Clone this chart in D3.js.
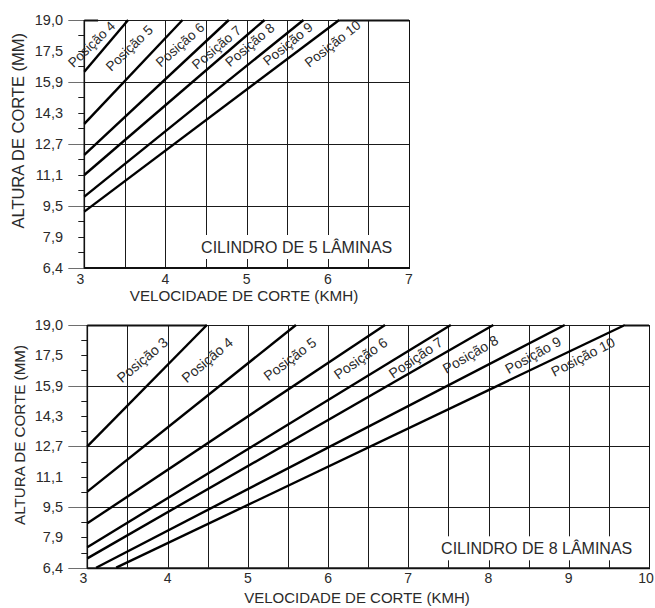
<!DOCTYPE html>
<html><head><meta charset="utf-8">
<script src="https://cdn.jsdelivr.net/npm/d3@7"></script>
<style>
body{margin:0;background:#fff}
svg{display:block}
text{font-family:"Liberation Sans",Arial,Helvetica,sans-serif;fill:#2a2a2a}
</style>
</head><body>
<svg id="c" width="655" height="608"></svg>
<script>
// ---------------- DATA ----------------
// Y axis: cut height in mm (1/16 inch steps)
const yTickValues = [6.35, 7.94, 9.53, 11.11, 12.70, 14.29, 15.88, 17.46, 19.05];
const yTickLabels = ["6,4", "7,9", "9,5", "11,1", "12,7", "14,3", "15,9", "17,5", "19,0"];
const yGridValues = [6.35, 9.53, 12.70, 15.88, 19.05];

// X axis: cutting speed km/h
const xTicks5 = [3, 4, 5, 6, 7];
const xTicks8 = [3, 4, 5, 6, 7, 8, 9, 10];

// Position labels
const positions5 = ["Posição 4", "Posição 5", "Posição 6", "Posição 7", "Posição 8", "Posição 9", "Posição 10"];
const positions8 = ["Posição 3", "Posição 4", "Posição 5", "Posição 6", "Posição 7", "Posição 8", "Posição 9", "Posição 10"];

// Lines: [speed, height] start and end points – 5-blade cylinder
const lines5 = [
  [[3, 16.40], [3.54, 19.05]],
  [[3, 13.72], [4.21, 19.05]],
  [[3, 12.13], [4.78, 19.05]],
  [[3, 11.10], [5.22, 19.05]],
  [[3, 9.99],  [5.70, 19.05]],
  [[3, 9.22],  [6.14, 19.05]]
];
// 8-blade cylinder
const lines8 = [
  [[3, 12.70],    [4.49, 19.05]],
  [[3, 10.33],    [5.60, 19.05]],
  [[3, 8.67],     [6.71, 19.05]],
  [[3, 7.42],     [7.53, 19.05]],
  [[3, 6.84],     [8.06, 19.05]],
  [[3.11, 6.35],  [8.95, 19.05]],
  [[3.36, 6.35],  [9.70, 19.05]]
];

// ---------------- LAYOUT ----------------
const svg = d3.select("#c");

function drawChart(cfg) {
  const g = svg.append("g");
  const x = d3.scaleLinear().domain([3, cfg.xMax]).range([cfg.left, cfg.right]);
  const y = d3.scaleLinear().domain([6.35, 19.05]).range([cfg.bottom, cfg.top]);

  // vertical grid every 0.5 km/h
  g.selectAll("line.vg").data(d3.range(3.5, cfg.xMax, 0.5)).join("line")
    .attr("x1", d => Math.round(x(d)) + 0.5).attr("x2", d => Math.round(x(d)) + 0.5)
    .attr("y1", cfg.top).attr("y2", cfg.bottom)
    .attr("stroke", "#1a1a1a").attr("stroke-width", 1);

  // horizontal grid (with long outer tick)
  g.selectAll("line.hg").data(yGridValues).join("line")
    .attr("x1", cfg.left).attr("x2", cfg.right)
    .attr("y1", d => Math.round(y(d)) + 0.5).attr("y2", d => Math.round(y(d)) + 0.5)
    .attr("stroke", "#1a1a1a").attr("stroke-width", 1);
  g.selectAll("line.ht").data(yGridValues).join("line")
    .attr("x1", cfg.left - cfg.longTick).attr("x2", cfg.left)
    .attr("y1", d => Math.round(y(d)) + 0.5).attr("y2", d => Math.round(y(d)) + 0.5)
    .attr("stroke", "#6e6e6e").attr("stroke-width", 1);

  // short ticks every 1/32 inch (not on grid lines)
  const short = [];
  for (let i = 0; i < yTickValues.length; i++) {
    if (!yGridValues.includes(yTickValues[i])) short.push(yTickValues[i]);
    if (i < yTickValues.length - 1) short.push((yTickValues[i] + yTickValues[i + 1]) / 2);
  }
  g.selectAll("line.st").data(short).join("line")
    .attr("x1", cfg.left - 6).attr("x2", cfg.left)
    .attr("y1", d => Math.round(y(d)) + 0.5).attr("y2", d => Math.round(y(d)) + 0.5)
    .attr("stroke", "#1a1a1a").attr("stroke-width", 1);

  // frame
  g.append("line").attr("x1", cfg.right + 0.5).attr("x2", cfg.right + 0.5)
    .attr("y1", cfg.top).attr("y2", cfg.bottom).attr("stroke", "#111").attr("stroke-width", 1);
  g.append("line").attr("x1", cfg.left).attr("x2", cfg.left)
    .attr("y1", cfg.top).attr("y2", cfg.bottom + 1).attr("stroke", "#111").attr("stroke-width", 1.6);
  g.append("line").attr("x1", cfg.left).attr("x2", cfg.right + 1)
    .attr("y1", cfg.bottom + 0.5).attr("y2", cfg.bottom + 0.5).attr("stroke", "#111").attr("stroke-width", 2);
  g.selectAll("line.tt").data(cfg.topThick).join("line")
    .attr("x1", d => x(d[0])).attr("x2", d => x(d[1]))
    .attr("y1", Math.round(y(19.05)) + 0.5).attr("y2", Math.round(y(19.05)) + 0.5)
    .attr("stroke", "#111").attr("stroke-width", 2);

  // box label with white background
  const bl = g.append("text").attr("x", cfg.boxX).attr("y", cfg.boxY)
    .attr("text-anchor", "middle").attr("font-size", 16).text(cfg.boxText);
  const bb = bl.node().getBBox();
  g.insert("rect", "text").attr("x", bb.x - 4).attr("y", bb.y - 3)
    .attr("width", bb.width + 8).attr("height", bb.height + 6).attr("fill", "#fff");

  // lines
  const lineGen = d3.line().x(d => x(d[0])).y(d => y(d[1]));
  g.selectAll("path.ln").data(cfg.lines).join("path")
    .attr("d", lineGen).attr("fill", "none").attr("stroke", "#000").attr("stroke-width", 2.4);

  // position labels
  g.selectAll("text.pl").data(cfg.labels).join("text")
    .attr("transform", (d, i) => `translate(${x(cfg.anchors[i][0])},${y(cfg.anchors[i][1])}) rotate(${cfg.anchors[i][2]})`)
    .attr("text-anchor", "middle").attr("dominant-baseline", "central")
    .attr("font-size", cfg.labelSize).text(d => d);

  // y tick labels
  g.selectAll("text.yl").data(yTickValues).join("text")
    .attr("x", 63).attr("y", d => y(d)).attr("text-anchor", "end")
    .attr("dominant-baseline", "central").attr("font-size", 14.5)
    .text((d, i) => yTickLabels[i]);

  // x tick labels
  g.selectAll("text.xl").data(cfg.xTicks).join("text")
    .attr("x", d => x(d) + (d === 3 ? -4 : 0) + (d === 10 ? -3 : 0)).attr("y", cfg.bottom + cfg.xLabelGap)
    .attr("text-anchor", "middle").attr("font-size", 14).text(d => d);

  // axis titles
  g.append("text").attr("x", cfg.xTitleX).attr("y", cfg.xTitleY)
    .attr("text-anchor", "middle").attr("font-size", cfg.xTitleSize).text("VELOCIDADE DE CORTE (KMH)");
  g.append("text").attr("transform", `translate(${cfg.yTitleX},${cfg.yTitleY}) rotate(-90)`)
    .attr("text-anchor", "middle").attr("dominant-baseline", "central")
    .attr("font-size", cfg.yTitleSize).text("ALTURA DE CORTE (MM)");
}

drawChart({
  xMax: 7, left: 84.3, right: 409, top: 20, bottom: 267.6, longTick: 16,
  lines: lines5, labels: positions5, labelSize: 13.5,
  anchors: [[3.09, 17.80, -44], [3.555, 17.60, -44], [4.18, 17.77, -41], [4.63, 17.64, -40],
            [5.04, 17.77, -40], [5.51, 17.82, -39], [6.06, 17.82, -38]],
  topThick: [[3, 3.17], [6.14, 7]],
  xTicks: xTicks5, xLabelGap: 16, boxText: "CILINDRO DE 5 LÂMINAS", boxX: 296.7, boxY: 253,
  xTitleX: 244, xTitleY: 300.8, xTitleSize: 15.2,
  yTitleX: 18.3, yTitleY: 130.8, yTitleSize: 16.5
});

drawChart({
  xMax: 10, left: 87.3, right: 649, top: 325, bottom: 567.7, longTick: 19,
  lines: lines8, labels: positions8, labelSize: 14,
  anchors: [[3.685, 17.22, -40], [4.494, 17.22, -40], [5.524, 17.27, -37], [6.405, 17.31, -35],
            [7.093, 17.34, -34], [7.775, 17.52, -30], [8.554, 17.48, -29], [9.177, 17.39, -27]],
  topThick: [[3, 4.49], [9.70, 10]],
  xTicks: xTicks8, xLabelGap: 15.6, boxText: "CILINDRO DE 8 LÂMINAS", boxX: 536.7, boxY: 554.3,
  xTitleX: 357, xTitleY: 603, xTitleSize: 15,
  yTitleX: 19.2, yTitleY: 435, yTitleSize: 15.2
});
</script>
</body></html>
